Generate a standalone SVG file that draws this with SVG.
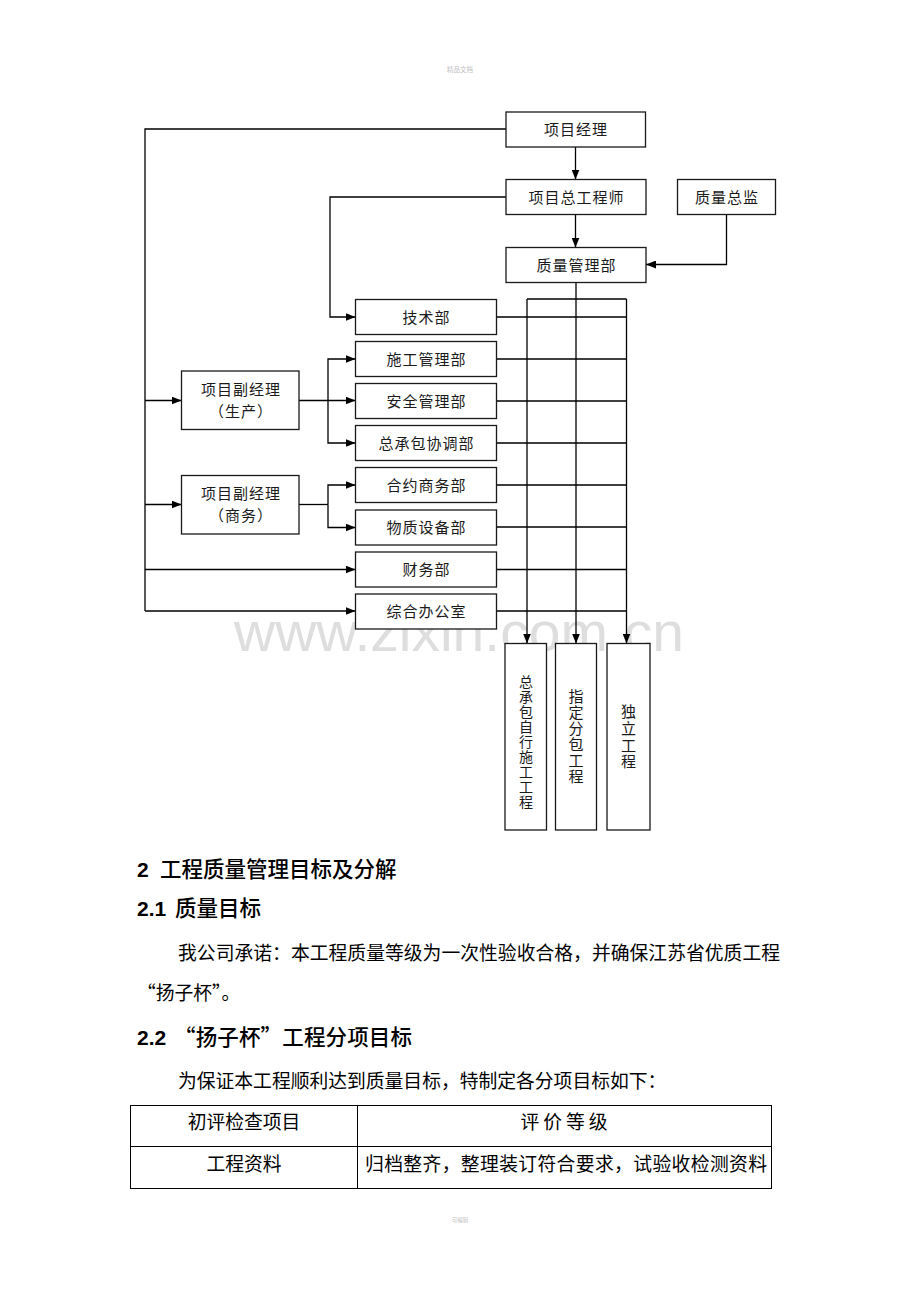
<svg xmlns="http://www.w3.org/2000/svg" width="920" height="1302" viewBox="0 0 920 1302">
<style>
.box{fill:#fff;stroke:#1a1a1a;stroke-width:1.3}
.lbl{font-family:"Noto Sans CJK SC",sans-serif;font-size:15px;fill:#1a1a1a;text-anchor:middle;letter-spacing:1px}
.vl{font-family:"Noto Sans CJK SC",sans-serif;fill:#1a1a1a;writing-mode:vertical-rl;text-anchor:start}
.ln{fill:none;stroke:#000;stroke-width:1.3}
.ar{marker-end:url(#ah)}
.body{font-family:"Noto Sans CJK SC",sans-serif;font-size:18.8px;fill:#000}
.head{font-family:"Noto Sans CJK SC",sans-serif;font-size:21.5px;fill:#000;font-weight:500}
.num{font-family:"Liberation Sans Narrow","Liberation Sans",sans-serif;font-size:21px;fill:#000;font-weight:bold}
.cell{font-family:"Noto Sans CJK SC",sans-serif;font-size:18.8px;fill:#000;text-anchor:middle}
.tb{fill:none;stroke:#000;stroke-width:1}
</style>
<defs>
<marker id="ah" markerUnits="userSpaceOnUse" markerWidth="10" markerHeight="8" refX="10" refY="4" orient="auto">
<path d="M0,0 L10,4 L0,8 z" fill="#000"/>
</marker>
</defs>
<rect x="0" y="0" width="920" height="1302" fill="#fff"/>
<text x="460" y="72" font-family="Noto Sans CJK SC,sans-serif" font-size="6.5" fill="#c0c0c0" text-anchor="middle">精品文档</text>
<text x="460" y="1222" font-family="Noto Sans CJK SC,sans-serif" font-size="5.5" fill="#c0c0c0" text-anchor="middle">可编辑</text>
<text x="459" y="651" font-family="Liberation Sans,Arial,sans-serif" font-size="56" fill="#dedede" text-anchor="middle" textLength="450" lengthAdjust="spacingAndGlyphs">www.zixin.com.cn</text>

<g id="connectors">
<path class="ln ar" d="M575.5,147 V179.5"/>
<path class="ln ar" d="M575.5,214.5 V247.5"/>
<path class="ln ar" d="M726.5,214.5 V264.5 H646"/>
<path class="ln" d="M506,129 H145 V611"/>
<path class="ln ar" d="M145,400.5 H181.5"/>
<path class="ln ar" d="M145,504.5 H181.5"/>
<path class="ln ar" d="M145,569.5 H355.5"/>
<path class="ln ar" d="M145,611 H355.5"/>
<path class="ln ar" d="M506,197 H330 V317 H355.5"/>
<path class="ln ar" d="M299,400.5 H355.5"/>
<path class="ln ar" d="M328,400.5 V359 H355.5"/>
<path class="ln ar" d="M328,400.5 V443 H355.5"/>
<path class="ln" d="M299,504.5 H328"/>
<path class="ln ar" d="M328,504.5 V485 H355.5"/>
<path class="ln ar" d="M328,504.5 V527.5 H355.5"/>
<path class="ln" d="M527,299 H626.5"/>
<path class="ln ar" d="M527,299 V643.5"/>
<path class="ln ar" d="M576,282.5 V643.5"/>
<path class="ln ar" d="M626.5,299 V643.5"/>
<path class="ln" d="M496.5,317 H626.5 M496.5,359 H626.5 M496.5,401 H626.5 M496.5,443 H626.5 M496.5,485 H626.5 M496.5,527 H626.5 M496.5,569.5 H626.5 M496.5,611 H626.5"/>
</g>

<g id="n-pm"><rect class="box" x="506" y="112" width="139.5" height="35"/><text class="lbl" x="576" y="135">项目经理</text></g>
<g id="n-ce"><rect class="box" x="506" y="179.5" width="140" height="35"/><text class="lbl" x="576.5" y="202.5">项目总工程师</text></g>
<g id="n-qd"><rect class="box" x="677.5" y="179.5" width="98" height="35"/><text class="lbl" x="727" y="202.5">质量总监</text></g>
<g id="n-qm"><rect class="box" x="506" y="247.5" width="140" height="35"/><text class="lbl" x="576.5" y="270.5">质量管理部</text></g>

<g id="n-tech"><rect class="box" x="355.5" y="299.5" width="141" height="35"/><text class="lbl" x="426.5" y="322.5">技术部</text></g>
<g id="n-cons"><rect class="box" x="355.5" y="341.5" width="141" height="35"/><text class="lbl" x="426.5" y="364.5">施工管理部</text></g>
<g id="n-safe"><rect class="box" x="355.5" y="383.5" width="141" height="35"/><text class="lbl" x="426.5" y="406.5">安全管理部</text></g>
<g id="n-coord"><rect class="box" x="355.5" y="425.5" width="141" height="35"/><text class="lbl" x="426.5" y="448.5">总承包协调部</text></g>
<g id="n-cont"><rect class="box" x="355.5" y="467.5" width="141" height="35"/><text class="lbl" x="426.5" y="490.5">合约商务部</text></g>
<g id="n-mat"><rect class="box" x="355.5" y="510" width="141" height="35"/><text class="lbl" x="426.5" y="533">物质设备部</text></g>
<g id="n-fin"><rect class="box" x="355.5" y="552" width="141" height="35"/><text class="lbl" x="426.5" y="575">财务部</text></g>
<g id="n-off"><rect class="box" x="355.5" y="594" width="141" height="35"/><text class="lbl" x="426.5" y="617">综合办公室</text></g>

<g id="n-dpm1"><rect class="box" x="181.5" y="371" width="117.5" height="58.5"/><text class="lbl" x="241" y="395">项目副经理</text><text class="lbl" x="241" y="417">（生产）</text></g>
<g id="n-dpm2"><rect class="box" x="181.5" y="475.5" width="117.5" height="58.5"/><text class="lbl" x="241" y="499">项目副经理</text><text class="lbl" x="241" y="521">（商务）</text></g>

<g id="n-self"><rect class="box" x="505" y="643.5" width="41.5" height="186.5"/>
<text class="vl" x="526" y="674.5" font-size="14" letter-spacing="1">总承包自行施工工程</text>
</g>
<g id="n-sub"><rect class="box" x="555.5" y="643.5" width="41" height="186.5"/>
<text class="vl" x="576" y="689" font-size="15" letter-spacing="1">指定分包工程</text>
</g>
<g id="n-ind"><rect class="box" x="607" y="643.5" width="43" height="186.5"/>
<text class="vl" x="628.5" y="704" font-size="15" letter-spacing="1.7">独立工程</text>
</g>

<g id="text">
<text class="num" x="137" y="877">2</text><text class="head" x="160" y="877">工程质量管理目标及分解</text>
<text class="num" x="137" y="916">2.1</text><text class="head" x="175" y="916">质量目标</text>
<text class="body" x="178" y="960" textLength="602" lengthAdjust="spacing">我公司承诺：本工程质量等级为一次性验收合格，并确保江苏省优质工程</text>
<text class="body" x="137" y="1000">“扬子杯”。</text>
<text class="num" x="137" y="1045">2.2</text><text class="head" x="174" y="1045" textLength="238" lengthAdjust="spacing">“扬子杯”工程分项目标</text>
<text class="body" x="178" y="1088">为保证本工程顺利达到质量目标，特制定各分项目标如下：</text>
</g>

<g id="table">
<rect class="tb" x="130.5" y="1105.5" width="641" height="83"/>
<line class="tb" x1="130.5" y1="1146.5" x2="771.5" y2="1146.5"/>
<line class="tb" x1="357.5" y1="1105.5" x2="357.5" y2="1188.5"/>
<text class="cell" x="244" y="1129">初评检查项目</text>
<text class="cell" x="566" y="1129" letter-spacing="4">评价等级</text>
<text class="cell" x="244" y="1171">工程资料</text>
<text class="body" x="365" y="1171" textLength="402" lengthAdjust="spacing">归档整齐，整理装订符合要求，试验收检测资料</text>
</g>
</svg>
